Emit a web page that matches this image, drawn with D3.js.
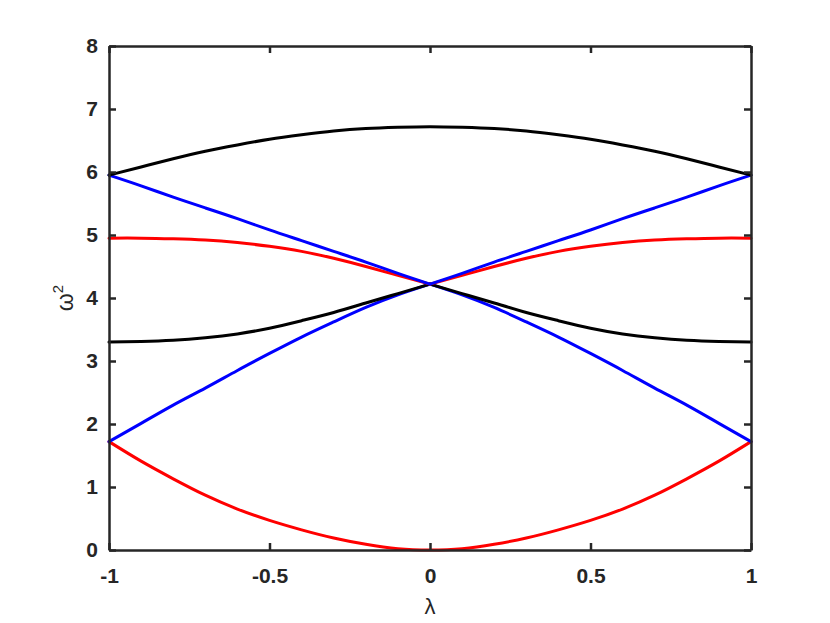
<!DOCTYPE html>
<html>
<head>
<meta charset="utf-8">
<script src="https://cdn.jsdelivr.net/npm/d3@7/dist/d3.min.js"></script>
<style>
  html, body { margin: 0; padding: 0; background: #fff; }
  svg { display: block; }
</style>
</head>
<body>
<svg id="chart" width="830" height="623"></svg>
<script>
// ---- data ----
const lambda = [-1.0, -0.9, -0.8, -0.7, -0.6, -0.5, -0.4, -0.3, -0.2, -0.1, 0.0,
                 0.1,  0.2,  0.3,  0.4,  0.5,  0.6,  0.7,  0.8,  0.9, 1.0];

const blackTop   = [5.95, 6.08, 6.21, 6.33, 6.43, 6.52, 6.59, 6.65, 6.69, 6.71, 6.72,
                    6.71, 6.69, 6.65, 6.59, 6.52, 6.43, 6.33, 6.21, 6.08, 5.95];
const blueUpper  = [5.95, 5.78, 5.60, 5.43, 5.26, 5.08, 4.91, 4.74, 4.57, 4.39, 4.22,
                    4.39, 4.57, 4.74, 4.91, 5.08, 5.26, 5.43, 5.60, 5.78, 5.95];
const redTop     = [4.95, 4.95, 4.94, 4.92, 4.88, 4.82, 4.74, 4.63, 4.50, 4.36, 4.22,
                    4.36, 4.50, 4.63, 4.74, 4.82, 4.88, 4.92, 4.94, 4.95, 4.95];
const blackLower = [3.30, 3.31, 3.33, 3.37, 3.43, 3.52, 3.64, 3.77, 3.92, 4.07, 4.22,
                    4.07, 3.92, 3.77, 3.64, 3.52, 3.43, 3.37, 3.33, 3.31, 3.30];
const blueLower  = [1.72, 2.01, 2.30, 2.57, 2.85, 3.12, 3.38, 3.62, 3.85, 4.05, 4.22,
                    4.05, 3.85, 3.62, 3.38, 3.12, 2.85, 2.57, 2.30, 2.01, 1.72];
const redBottom  = [1.72, 1.41, 1.13, 0.87, 0.65, 0.47, 0.32, 0.19, 0.09, 0.02, 0.00,
                    0.02, 0.09, 0.19, 0.32, 0.47, 0.65, 0.87, 1.13, 1.41, 1.72];

const xTicks = [-1, -0.5, 0, 0.5, 1];
const xTickLabels = ["-1", "-0.5", "0", "0.5", "1"];
const yTicks = [0, 1, 2, 3, 4, 5, 6, 7, 8];
const yTickLabels = ["0", "1", "2", "3", "4", "5", "6", "7", "8"];

// series: values, colour, whether the curve has a cusp at lambda = 0
const series = [
  { values: redBottom,  color: "#ff0000", cusp: false },
  { values: blueLower,  color: "#0000ff", cusp: true },
  { values: blackLower, color: "#000000", cusp: true },
  { values: redTop,     color: "#ff0000", cusp: true },
  { values: blueUpper,  color: "#0000ff", cusp: true },
  { values: blackTop,   color: "#000000", cusp: false }
];

// ---- layout ----
const plotLeft = 109, plotRight = 751, plotTop = 46, plotBottom = 550;
const axisColor = "#262626";
const font = "'Liberation Sans', Arial, Helvetica, sans-serif";

const svg = d3.select("#chart");
const x = d3.scaleLinear().domain([-1, 1]).range([plotLeft, plotRight]);
const y = d3.scaleLinear().domain([0, 8]).range([plotBottom, plotTop]);

// ---- curves ----
const line = d3.line()
  .x(d => x(d[0]))
  .y(d => y(d[1]))
  .curve(d3.curveNatural);

const gLines = svg.append("g");
series.forEach(s => {
  const pts = lambda.map((l, i) => [l, s.values[i]]);
  const parts = s.cusp ? [pts.slice(0, 11), pts.slice(10)] : [pts];
  parts.forEach(p => {
    gLines.append("path")
      .attr("d", line(p))
      .attr("fill", "none")
      .attr("stroke", s.color)
      .attr("stroke-width", 3)
      .attr("stroke-linejoin", "round")
      .attr("stroke-linecap", "round");
  });
});

// ---- axes ----
function styleAxis(g) {
  g.select(".domain").attr("stroke", axisColor).attr("stroke-width", 2.5);
  g.selectAll(".tick line").attr("stroke", axisColor).attr("stroke-width", 2.5);
  g.selectAll(".tick text")
    .attr("fill", axisColor)
    .style("font-family", font)
    .style("font-size", "21px")
    .style("font-weight", "bold");
}

svg.append("g")
  .attr("transform", `translate(0,${plotBottom})`)
  .call(d3.axisBottom(x).tickValues(xTicks)
        .tickFormat((d, i) => xTickLabels[i])
        .tickSizeInner(-7).tickSizeOuter(0).tickPadding(18))
  .call(styleAxis);

svg.append("g")
  .attr("transform", `translate(0,${plotTop})`)
  .call(d3.axisTop(x).tickValues(xTicks).tickFormat("")
        .tickSizeInner(-7).tickSizeOuter(0))
  .call(styleAxis);

svg.append("g")
  .attr("transform", `translate(${plotLeft},0)`)
  .call(d3.axisLeft(y).tickValues(yTicks)
        .tickFormat((d, i) => yTickLabels[i])
        .tickSizeInner(-7).tickSizeOuter(0).tickPadding(11))
  .call(styleAxis);

svg.append("g")
  .attr("transform", `translate(${plotRight},0)`)
  .call(d3.axisRight(y).tickValues(yTicks).tickFormat("")
        .tickSizeInner(-7).tickSizeOuter(0))
  .call(styleAxis);

// ---- axis labels ----
svg.append("text")
  .attr("x", (plotLeft + plotRight) / 2)
  .attr("y", 614)
  .attr("text-anchor", "middle")
  .attr("fill", axisColor)
  .style("font-family", font)
  .style("font-size", "22px")
  .text("λ");

const yl = svg.append("text")
  .attr("transform", `translate(73,${(plotTop + plotBottom) / 2}) rotate(-90)`)
  .attr("text-anchor", "middle")
  .attr("fill", axisColor)
  .style("font-family", font)
  .style("font-size", "23px");
yl.append("tspan").text("ω");
yl.append("tspan").attr("dy", "-0.7em").style("font-size", "15px").text("2");
</script>
</body>
</html>
